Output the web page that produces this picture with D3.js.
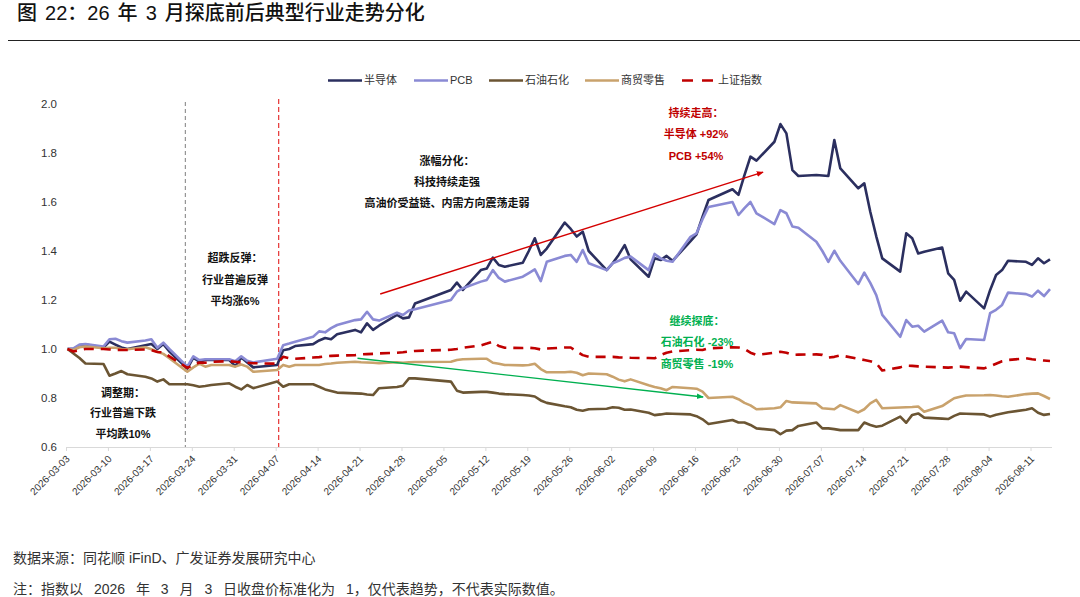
<!DOCTYPE html>
<html><head><meta charset="utf-8">
<script src="https://cdn.jsdelivr.net/npm/d3@7"></script>
<style>
body{margin:0;background:#fff}
svg{display:block}
text{font-family:"Liberation Sans","Noto Sans CJK SC",sans-serif}
</style>
</head><body>
<svg id="c" width="1080" height="597"></svg>
<script>
// ---------------- data ----------------
const dates = [
"03-03","03-04","03-05","03-06","03-09","03-10","03-11","03-12","03-13","03-16","03-17","03-18","03-19","03-20","03-23","03-24","03-25","03-26","03-27","03-30","03-31",
"04-01","04-02","04-03","04-07","04-08","04-09","04-10","04-13","04-14","04-15","04-16","04-17","04-20","04-21","04-22","04-23","04-24","04-27","04-28","04-29","04-30",
"05-06","05-07","05-08","05-11","05-12","05-13","05-14","05-15","05-18","05-19","05-20","05-21","05-22","05-25","05-26","05-27","05-28","05-29",
"06-01","06-02","06-03","06-04","06-05","06-08","06-09","06-10","06-11","06-12","06-15","06-16","06-17","06-18","06-22","06-23","06-24","06-25","06-26","06-29","06-30",
"07-01","07-02","07-03","07-06","07-07","07-08","07-09","07-10","07-13","07-14","07-15","07-16","07-17","07-20","07-21","07-22","07-23","07-24","07-27","07-28","07-29","07-30","07-31",
"08-03","08-04","08-05","08-06","08-07","08-10","08-11","08-12","08-13","08-14"];

const semiconductor = [
1.00,1.00,1.015,1.018,1.006,1.03,1.018,1.006,1.00,1.015,1.02,1.00,1.02,0.99,0.92,0.965,0.948,0.955,0.956,0.955,0.93,
0.965,0.945,0.925,0.935,0.995,1.00,1.012,1.02,1.035,1.045,1.04,1.06,1.078,1.068,1.105,1.078,1.095,1.139,1.125,1.129,1.186,
1.241,1.271,1.241,1.322,1.329,1.373,1.343,1.336,1.352,1.40,1.452,1.384,1.41,1.516,1.49,1.459,1.479,1.40,
1.322,1.35,1.384,1.424,1.366,1.295,1.37,1.363,1.38,1.36,1.44,1.468,1.54,1.608,1.652,1.629,1.71,1.785,1.769,1.846,1.918,
1.88,1.73,1.706,1.71,1.708,1.706,1.853,1.737,1.656,1.676,1.56,1.46,1.37,1.316,1.472,1.452,1.39,1.397,1.414,1.309,1.282,1.197,1.234,
1.166,1.24,1.302,1.322,1.36,1.356,1.343,1.37,1.35,1.366];

const pcb = [
1.00,1.003,1.018,1.02,1.01,1.04,1.042,1.032,1.026,1.035,1.04,1.005,1.026,1.00,0.928,0.97,0.955,0.958,0.958,0.958,0.95,
0.97,0.952,0.945,0.96,1.015,1.022,1.03,1.05,1.072,1.068,1.085,1.098,1.118,1.121,1.152,1.121,1.116,1.148,1.139,1.157,1.162,
1.20,1.234,1.248,1.275,1.282,1.322,1.29,1.275,1.295,1.31,1.325,1.277,1.356,1.38,1.384,1.356,1.404,1.35,
1.322,1.35,1.36,1.372,1.377,1.322,1.388,1.37,1.36,1.356,1.458,1.472,1.53,1.58,1.60,1.547,1.575,1.60,1.554,1.51,1.567,
1.554,1.50,1.495,1.438,1.40,1.356,1.401,1.36,1.265,1.312,1.27,1.22,1.139,1.05,1.118,1.091,1.095,1.071,1.116,1.068,1.064,1.003,1.041,
1.037,1.146,1.16,1.18,1.23,1.224,1.214,1.238,1.216,1.244];

const petrochem = [
1.00,0.982,0.963,0.941,0.939,0.891,0.90,0.91,0.897,0.887,0.88,0.867,0.876,0.856,0.856,0.852,0.846,0.849,0.853,0.86,0.846,
0.835,0.853,0.84,0.867,0.846,0.856,0.856,0.856,0.846,0.835,0.829,0.822,0.819,0.818,0.814,0.812,0.84,0.845,0.85,0.88,0.88,
0.867,0.83,0.822,0.825,0.825,0.822,0.818,0.816,0.812,0.81,0.806,0.79,0.78,0.766,0.762,0.752,0.748,0.754,
0.756,0.762,0.76,0.752,0.753,0.74,0.73,0.733,0.737,0.736,0.733,0.726,0.713,0.694,0.71,0.70,0.70,0.69,0.676,0.669,0.652,
0.667,0.669,0.686,0.70,0.676,0.676,0.673,0.669,0.669,0.70,0.69,0.683,0.687,0.724,0.699,0.731,0.737,0.72,0.716,0.714,0.727,0.737,0.736,
0.733,0.724,0.732,0.737,0.742,0.752,0.758,0.74,0.731,0.735];

const retail = [
1.00,0.996,1.007,1.01,1.003,1.005,1.005,1.00,0.999,1.007,0.999,0.989,0.98,0.962,0.907,0.925,0.94,0.928,0.935,0.935,0.928,
0.937,0.928,0.907,0.914,0.935,0.928,0.935,0.935,0.935,0.939,0.941,0.944,0.948,0.946,0.945,0.944,0.942,0.946,0.944,0.946,0.947,
0.948,0.955,0.958,0.96,0.96,0.944,0.94,0.935,0.933,0.935,0.94,0.918,0.905,0.905,0.907,0.903,0.893,0.90,
0.897,0.887,0.875,0.868,0.876,0.852,0.845,0.84,0.832,0.845,0.84,0.838,0.826,0.80,0.805,0.795,0.78,0.77,0.754,0.758,0.762,
0.788,0.782,0.781,0.778,0.758,0.756,0.754,0.771,0.741,0.754,0.778,0.792,0.758,0.761,0.762,0.763,0.765,0.744,0.767,0.783,0.799,0.805,0.81,
0.811,0.812,0.81,0.807,0.805,0.816,0.818,0.819,0.808,0.796];

const shanghai = [
1.00,0.99,0.995,1.00,1.00,0.998,0.997,0.996,0.996,0.998,0.995,0.988,0.986,0.97,0.923,0.935,0.945,0.944,0.948,0.95,0.948,
0.945,0.944,0.942,0.94,0.968,0.962,0.96,0.965,0.967,0.97,0.972,0.973,0.975,0.978,0.979,0.98,0.982,0.985,0.987,0.99,0.992,
0.997,1.00,1.005,1.015,1.022,1.03,1.012,1.005,1.004,1.005,1.003,0.998,1.002,1.006,1.006,0.99,0.975,0.968,
0.968,0.968,0.966,0.965,0.964,0.963,0.962,0.975,0.985,0.99,0.995,0.997,0.996,1.003,1.007,1.006,1.00,0.985,0.976,0.985,0.989,
0.985,0.976,0.977,0.978,0.976,0.965,0.968,0.974,0.96,0.955,0.95,0.942,0.912,0.925,0.932,0.931,0.929,0.928,0.925,0.924,0.926,0.928,0.926,
0.921,0.93,0.94,0.95,0.955,0.962,0.958,0.955,0.953,0.951];

const seriesNames = ["半导体","PCB","石油石化","商贸零售","上证指数"];
const xTickLabels = ["2026-03-03","2026-03-10","2026-03-17","2026-03-24","2026-03-31","2026-04-07","2026-04-14","2026-04-21","2026-04-28","2026-05-05","2026-05-12","2026-05-19","2026-05-26","2026-06-02","2026-06-09","2026-06-16","2026-06-23","2026-06-30","2026-07-07","2026-07-14","2026-07-21","2026-07-28","2026-08-04","2026-08-11"];
const yTicks = [0.6,0.8,1.0,1.2,1.4,1.6,1.8,2.0];

// ---------------- drawing ----------------
const svg = d3.select("#c");
const parse = d3.utcParse("%Y-%m-%d");
const D = dates.map(s => parse("2026-" + s));
const x = d3.scaleUtc().domain([D[0], D[D.length-1]]).range([67.5, 1050]);
const y = d3.scaleLinear().domain([0.6, 2.0]).range([447, 104]);
const dayPos = n => x(new Date(D[0].getTime() + n*864e5));

// title + rule
svg.append("text").attr("x",17).attr("y",20).attr("font-size",20).attr("font-weight",500)
  .attr("word-spacing",2.5).attr("fill","#111").text("图 22：26 年 3 月探底前后典型行业走势分化");
svg.append("line").attr("x1",8).attr("x2",1080).attr("y1",40.5).attr("y2",40.5)
  .attr("stroke","#222").attr("stroke-width",1.2);

// y axis
const ya = svg.append("g").attr("transform","translate(60,0)")
  .call(d3.axisLeft(y).tickValues(yTicks).tickFormat(d3.format(".1f")).tickSize(0).tickPadding(3));
ya.select(".domain").remove();
ya.selectAll("text").attr("font-size",11.5).attr("fill","#333")
  .style("font-family","'Liberation Sans',sans-serif");

// x axis
svg.append("line").attr("x1",66).attr("x2",1052).attr("y1",447.5).attr("y2",447.5)
  .attr("stroke","#d9d9d9").attr("stroke-width",1);
const xa = svg.append("g").attr("transform","translate(-1.5,447)")
  .call(d3.axisBottom(x).tickValues(xTickLabels.map(parse)).tickFormat(d3.utcFormat("%Y-%m-%d"))
        .tickSize(4).tickSizeOuter(0));
xa.select(".domain").remove();
xa.selectAll(".tick line").attr("stroke","#d9d9d9");
xa.selectAll("text").attr("font-size",10).attr("fill","#333")
  .style("font-family","'Liberation Sans',sans-serif")
  .attr("text-anchor","end").attr("x",0).attr("y",0).attr("dy","0.35em")
  .attr("transform","translate(1.5,10) rotate(-45)");

// vertical reference lines
svg.append("line").attr("x1",x(parse("2026-03-23"))-2).attr("x2",x(parse("2026-03-23"))-2)
  .attr("y1",102).attr("y2",447).attr("stroke","#7f7f7f").attr("stroke-width",1).attr("stroke-dasharray","4,3");
svg.append("line").attr("x1",x(parse("2026-04-07"))+1.5).attr("x2",x(parse("2026-04-07"))+1.5)
  .attr("y1",99).attr("y2",447).attr("stroke","#e53333").attr("stroke-width",1.2).attr("stroke-dasharray","5,3");

// series
const series = [
  {name:seriesNames[0], values:semiconductor, color:"#2b2f5f", dash:null},
  {name:seriesNames[1], values:pcb,           color:"#8a8ad4", dash:null},
  {name:seriesNames[2], values:petrochem,     color:"#6b5533", dash:null},
  {name:seriesNames[3], values:retail,        color:"#c9a26c", dash:null},
  {name:seriesNames[4], values:shanghai,      color:"#c00000", dash:"10,7"}
];
const line = d3.line().x((d,i)=>x(D[i])).y(d=>y(d));
series.forEach(s=>{
  svg.append("path").datum(s.values).attr("d",line).attr("fill","none")
    .attr("stroke",s.color).attr("stroke-width",2.6).attr("stroke-linejoin","round")
    .attr("stroke-dasharray",s.dash);
});

// legend
const legX = [328,414,489,585,682];
series.forEach((s,i)=>{
  const g = svg.append("g").attr("transform",`translate(${legX[i]},80.5)`);
  g.append("line").attr("x1",0).attr("x2",34).attr("y1",0).attr("y2",0)
    .attr("stroke",s.color).attr("stroke-width",2.6).attr("stroke-dasharray",s.dash?"11,9":null);
  g.append("text").attr("x",36).attr("dy","0.36em").attr("font-size",11).attr("fill","#333").text(s.name);
});

// arrows
const defs = svg.append("defs");
[["arR","#d40000"],["arG","#00b050"]].forEach(([id,c])=>{
  defs.append("marker").attr("id",id).attr("viewBox","0 0 10 10").attr("refX",9).attr("refY",5)
    .attr("markerWidth",7).attr("markerHeight",7).attr("orient","auto-start-reverse")
    .attr("markerUnits","userSpaceOnUse")
    .append("path").attr("d","M0,1 L10,5 L0,9 Z").attr("fill",c);
});
svg.append("line").attr("x1",dayPos(52.2)).attr("y1",y(1.2245)).attr("x2",dayPos(116.1)).attr("y2",y(1.722))
  .attr("stroke","#d40000").attr("stroke-width",1.4).attr("marker-end","url(#arR)");
svg.append("line").attr("x1",dayPos(48.4)).attr("y1",y(0.962)).attr("x2",dayPos(106.1)).attr("y2",y(0.804))
  .attr("stroke","#00b050").attr("stroke-width",1.4).attr("marker-end","url(#arG)");

// annotations
const notes = [
  {x:123, ys:[393,413.5,434.5], c:"#111", t:["调整期：","行业普遍下跌","平均跌10%"]},
  {x:235, ys:[258.5,280.5,301], c:"#111", t:["超跌反弹：","行业普遍反弹","平均涨6%"]},
  {x:447, ys:[161.5,182.5,203.5], c:"#111", t:["涨幅分化：","科技持续走强","高油价受益链、内需方向震荡走弱"]},
  {x:696, ys:[113.5,134.5,156], c:"#c00000", t:["持续走高：","半导体 +92%","PCB +54%"]},
  {x:697, ys:[321,342.5,364.5], c:"#00b050", t:["继续探底：","石油石化 -23%","商贸零售 -19%"]}
];
notes.forEach(n=>{
  n.t.forEach((t,i)=>{
    svg.append("text").attr("x",n.x).attr("y",n.ys[i]).attr("dy","0.36em").attr("text-anchor","middle")
      .attr("font-size",11).attr("font-weight","bold").attr("fill",n.c).text(t);
  });
});

// footer
svg.append("text").attr("x",13).attr("y",558).attr("dy","0.36em").attr("font-size",14).attr("fill","#333")
  .text("数据来源：同花顺 iFinD、广发证券发展研究中心");
svg.append("text").attr("x",13).attr("y",589).attr("dy","0.36em").attr("font-size",14)
  .attr("fill","#333").attr("word-spacing",7)
  .text("注：指数以 2026 年 3 月 3 日收盘价标准化为 1，仅代表趋势，不代表实际数值。");
</script>
</body></html>
